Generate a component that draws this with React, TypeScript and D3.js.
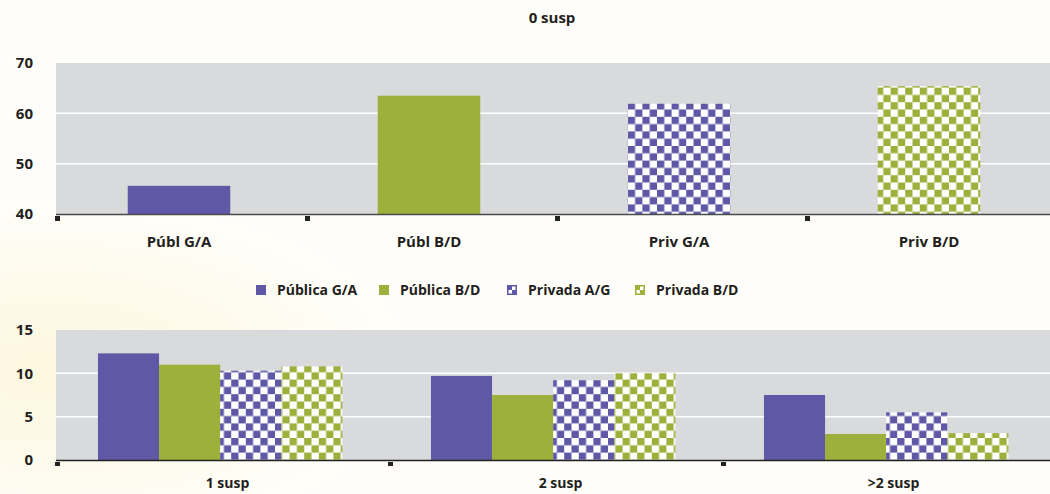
import React from "react";
import * as d3 from "d3";

const topTitle = "0 susp";
const topCategories = ["Públ G/A", "Públ B/D", "Priv G/A", "Priv B/D"];
const topValues = [45.6, 63.5, 61.9, 65.4];
const topTicks = [40, 50, 60, 70];

const seriesNames = ["Pública G/A", "Pública B/D", "Privada A/G", "Privada B/D"];
const bottomCategories = ["1 susp", "2 susp", ">2 susp"];
const publicaGA = [12.3, 9.7, 7.5];
const publicaBD = [11.0, 7.5, 3.0];
const privadaAG = [10.3, 9.2, 5.5];
const privadaBD = [10.8, 10.0, 3.1];
const bottomTicks = [0, 5, 10, 15];

const W = 1050;
const H = 494;
const PURPLE = "#5E58A6";
const GREEN = "#9DB03B";
const PLOT_BG = "#D9DADC";
const TEXT = "#231F20";
const FONT = "'Open Sans', sans-serif";

const fills = [PURPLE, GREEN, "url(#chkP)", "url(#chkG)"];

export default function App() {
  // top chart
  const tLeft = 56, tRight = 1056, tTop = 63, tBottom = 214;
  const xTop = d3.scaleBand<string>().domain(topCategories).range([tLeft, tRight]);
  const yTop = d3.scaleLinear().domain([40, 70]).range([tBottom, tTop]);
  const topBarW = xTop.bandwidth() * 0.41;

  // bottom chart
  const bLeft = 56, bRight = 1055, bTop = 330, bBottom = 460;
  const x0 = d3.scaleBand<string>().domain(bottomCategories).range([bLeft, bRight]);
  const bw = x0.bandwidth();
  const x1 = d3.scaleBand<string>().domain(seriesNames).range([bw * 0.126, bw * 0.86]);
  const yBot = d3.scaleLinear().domain([0, 15]).range([bBottom, bTop]);
  const bottomSeries = [publicaGA, publicaBD, privadaAG, privadaBD];

  const legendX = [256, 379, 507, 635];

  return (
    <svg width={W} height={H} style={{ position: "absolute", left: 0, top: 0 }} fontFamily={FONT}>
      <defs>
        <pattern id="chkP" width={14.6} height={14.6} patternUnits="userSpaceOnUse">
          <rect width={14.6} height={14.6} fill="#fff" />
          <rect width={7.3} height={7.3} fill={PURPLE} />
          <rect x={7.3} y={7.3} width={7.3} height={7.3} fill={PURPLE} />
        </pattern>
        <pattern id="chkG" width={14.6} height={14.6} patternUnits="userSpaceOnUse">
          <rect width={14.6} height={14.6} fill="#fff" />
          <rect width={7.3} height={7.3} fill={GREEN} />
          <rect x={7.3} y={7.3} width={7.3} height={7.3} fill={GREEN} />
        </pattern>
        <radialGradient id="bgGlow" cx="0.05" cy="0.75" r="0.35">
          <stop offset="0" stopColor="#FDF7DE" />
          <stop offset="1" stopColor="#FFFEFA" />
        </radialGradient>
      </defs>
      <rect width={W} height={H} fill="url(#bgGlow)" />

      {/* Top chart */}
      <text x={552} y={23} textAnchor="middle" fontWeight={700} fontSize={15} fill={TEXT}>{topTitle}</text>
      <rect x={tLeft} y={tTop} width={W - tLeft} height={tBottom - tTop} fill={PLOT_BG} />
      {topTicks.filter((t) => t !== 40 && t !== 70).map((t) => (
        <line key={t} x1={tLeft} x2={W} y1={yTop(t)} y2={yTop(t)} stroke="#fff" strokeWidth={1.5} />
      ))}
      {topCategories.map((c, i) => (
        <rect key={c} x={xTop(c)! + xTop.bandwidth() / 2 - topBarW / 2 - 2} y={yTop(topValues[i])}
          width={topBarW} height={tBottom - yTop(topValues[i])} fill={fills[i]} />
      ))}
      <line x1={tLeft} x2={W} y1={tBottom + 0.5} y2={tBottom + 0.5} stroke="#4a4a4a" strokeWidth={1.5} />
      {topCategories.map((c) => (
        <rect key={c} x={xTop(c)! - 1} y={tBottom + 2} width={5} height={5} fill="#222" />
      ))}
      {topTicks.map((t) => (
        <text key={t} x={33} y={yTop(t)} dy="0.35em" textAnchor="end" fontWeight={700} fontSize={15} fill={TEXT}>{t}</text>
      ))}
      {topCategories.map((c) => (
        <text key={c} x={xTop(c)! + xTop.bandwidth() / 2 - 2} y={247} textAnchor="middle" fontWeight={700} fontSize={15} fill={TEXT}>{c}</text>
      ))}

      {/* Legend */}
      {seriesNames.map((s, i) => (
        <g key={s} transform={`translate(${legendX[i]},285)`}>
          {i < 2 ? (
            <rect width={10} height={10} fill={fills[i]} />
          ) : (
            <g>
              <rect width={10} height={10} fill={i === 2 ? PURPLE : GREEN} />
              <rect x={5} y={1.5} width={3.5} height={3.5} fill="#fff" />
              <rect x={1.5} y={5} width={3.5} height={3.5} fill="#fff" />
            </g>
          )}
          <text x={21} y={10} fontWeight={700} fontSize={14} fill={TEXT}>{s}</text>
        </g>
      ))}

      {/* Bottom chart */}
      <rect x={bLeft} y={bTop} width={W - bLeft} height={bBottom - bTop} fill={PLOT_BG} />
      {bottomTicks.filter((t) => t !== 0 && t !== 15).map((t) => (
        <line key={t} x1={bLeft} x2={W} y1={yBot(t)} y2={yBot(t)} stroke="#fff" strokeWidth={1.5} />
      ))}
      {bottomCategories.map((c, ci) => (
        <g key={c} transform={`translate(${x0(c)},0)`}>
          {seriesNames.map((s, si) => {
            const v = bottomSeries[si][ci];
            return (
              <rect key={s} x={x1(s)} y={yBot(v)} width={x1.bandwidth()} height={bBottom - yBot(v)} fill={fills[si]} />
            );
          })}
        </g>
      ))}
      <line x1={bLeft} x2={W} y1={bBottom + 0.5} y2={bBottom + 0.5} stroke="#222" strokeWidth={1.5} />
      {bottomCategories.map((c) => (
        <rect key={c} x={x0(c)! - 1} y={bBottom + 2} width={5} height={4} fill="#222" />
      ))}
      {bottomTicks.map((t) => (
        <text key={t} x={33} y={yBot(t)} dy="0.35em" textAnchor="end" fontWeight={700} fontSize={15} fill={TEXT}>{t}</text>
      ))}
      {bottomCategories.map((c) => (
        <text key={c} x={x0(c)! + bw / 2 + 5} y={488} textAnchor="middle" fontWeight={700} fontSize={14} fill={TEXT}>{c}</text>
      ))}
    </svg>
  );
}
